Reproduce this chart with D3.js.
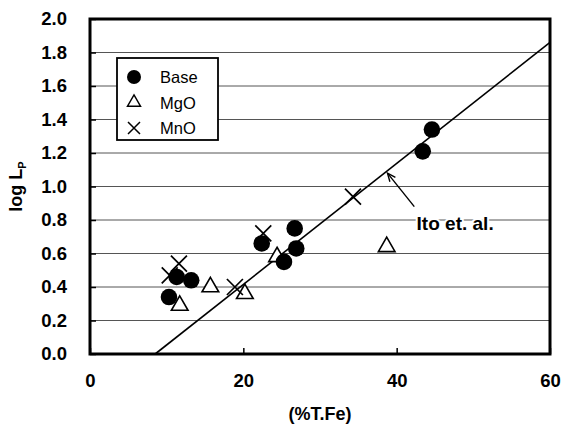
<!DOCTYPE html>
<html>
<head>
<meta charset="utf-8">
<script src="https://cdn.jsdelivr.net/npm/d3@7"></script>
<style>
  body { margin: 0; background: #fff; }
  svg { display: block; font-family: "Liberation Sans", Arial, sans-serif; }
</style>
</head>
<body>
<svg id="chart" width="563" height="428"></svg>
<script>
// values
const baseX = [10.3, 11.3, 13.2, 22.4, 26.7, 26.9, 25.3, 43.4, 44.6];
const baseY = [0.34, 0.46, 0.44, 0.66, 0.75, 0.63, 0.55, 1.21, 1.34];
const mgoX = [11.7, 15.7, 20.2, 24.4, 38.7];
const mgoY = [0.29, 0.40, 0.36, 0.58, 0.64];
const mnoX = [11.6, 10.4, 18.9, 22.6, 34.3];
const mnoY = [0.54, 0.47, 0.40, 0.72, 0.94];
// Ito et. al. line end points
const itoX = [8.5, 60];
const itoY = [0, 1.86];
const xTicks = [0, 20, 40, 60];
const yTicks = [0, 0.2, 0.4, 0.6, 0.8, 1.0, 1.2, 1.4, 1.6, 1.8, 2.0];
const legendLabels = ['Base', 'MgO', 'MnO'];

const margin = { top: 19, right: 13, bottom: 74, left: 90 };
const width = 563, height = 428;
const w = width - margin.left - margin.right;
const h = height - margin.top - margin.bottom;

const svg = d3.select('#chart');
const g = svg.append('g').attr('transform', `translate(${margin.left},${margin.top})`);

const x = d3.scaleLinear().domain([0, 60]).range([0, w]);
const y = d3.scaleLinear().domain([0, 2]).range([h, 0]);

// grid lines
g.append('g')
  .selectAll('line')
  .data(yTicks.slice(1, -1))
  .join('line')
  .attr('x1', 0).attr('x2', w)
  .attr('y1', d => y(d)).attr('y2', d => y(d))
  .attr('stroke', '#555')
  .attr('stroke-width', 1);

// y axis ticks and labels
const yAxis = g.append('g')
  .call(d3.axisLeft(y).tickValues(yTicks).tickFormat(d3.format('.1f')).tickSize(-6).tickPadding(23));
yAxis.select('.domain').remove();
yAxis.selectAll('line').attr('stroke', '#000').attr('stroke-width', 1.5);
yAxis.selectAll('text').style('font-size', '18.5px').style('font-weight', 'bold').attr('fill', '#000');

// x axis ticks and labels
const xAxis = g.append('g')
  .attr('transform', `translate(0,${h})`)
  .call(d3.axisBottom(x).tickValues(xTicks).tickSize(-6).tickPadding(20));
xAxis.select('.domain').remove();
xAxis.selectAll('line').attr('stroke', '#000').attr('stroke-width', 1.5);
xAxis.selectAll('text').style('font-size', '18.5px').style('font-weight', 'bold').attr('fill', '#000');

// Ito et. al. line
g.append('path')
  .datum(itoX.map((d, i) => [d, itoY[i]]))
  .attr('d', d3.line().x(d => x(d[0])).y(d => y(d[1])))
  .attr('fill', 'none')
  .attr('stroke', '#000')
  .attr('stroke-width', 1.6);

// markers
const tri = d3.symbol().type(d3.symbolTriangle).size(120);

g.append('g')
  .selectAll('path')
  .data(mgoX.map((d, i) => [d, mgoY[i]]))
  .join('path')
  .attr('transform', d => `translate(${x(d[0])},${y(d[1])})`)
  .attr('d', tri)
  .attr('fill', '#fff')
  .attr('stroke', '#000')
  .attr('stroke-width', 1.6);

g.append('g')
  .selectAll('path')
  .data(mnoX.map((d, i) => [d, mnoY[i]]))
  .join('path')
  .attr('transform', d => `translate(${x(d[0])},${y(d[1])})`)
  .attr('d', 'M-8,-8L8,8M-8,8L8,-8')
  .attr('stroke', '#000')
  .attr('stroke-width', 1.7);

g.append('g')
  .selectAll('circle')
  .data(baseX.map((d, i) => [d, baseY[i]]))
  .join('circle')
  .attr('cx', d => x(d[0]))
  .attr('cy', d => y(d[1]))
  .attr('r', 8.3)
  .attr('fill', '#000');

// annotation arrow
const arrowFrom = [42.3, 0.88], arrowTo = [38.8, 1.08];
const ax1 = x(arrowFrom[0]), ay1 = y(arrowFrom[1]);
const ax2 = x(arrowTo[0]), ay2 = y(arrowTo[1]);
const ang = Math.atan2(ay2 - ay1, ax2 - ax1);
g.append('line')
  .attr('x1', ax1).attr('y1', ay1).attr('x2', ax2).attr('y2', ay2)
  .attr('stroke', '#000').attr('stroke-width', 1.4);
g.append('path')
  .attr('d', `M${ax2 - 9 * Math.cos(ang - 0.4)},${ay2 - 9 * Math.sin(ang - 0.4)}L${ax2},${ay2}L${ax2 - 9 * Math.cos(ang + 0.4)},${ay2 - 9 * Math.sin(ang + 0.4)}`)
  .attr('fill', 'none').attr('stroke', '#000').attr('stroke-width', 1.4);

g.append('text')
  .attr('x', x(42.6))
  .attr('y', y(0.74))
  .attr('fill', '#000')
  .attr('stroke', '#fff')
  .attr('stroke-width', 4)
  .attr('paint-order', 'stroke')
  .style('font-size', '19px')
  .style('font-weight', 'bold')
  .text('Ito et. al.');

// legend
const legend = svg.append('g').attr('transform', 'translate(117,58)');
legend.append('rect')
  .attr('width', 101).attr('height', 82)
  .attr('fill', '#fff').attr('stroke', '#000').attr('stroke-width', 1.8);
const rows = legend.selectAll('g.row')
  .data(legendLabels)
  .join('g')
  .attr('class', 'row')
  .attr('transform', (d, i) => `translate(17,${19 + i * 25.5})`);
rows.each(function (d, i) {
  const r = d3.select(this);
  if (i === 0) r.append('circle').attr('r', 7).attr('fill', '#000');
  if (i === 1) r.append('path').attr('d', d3.symbol().type(d3.symbolTriangle).size(75))
    .attr('fill', '#fff').attr('stroke', '#000').attr('stroke-width', 1.4);
  if (i === 2) r.append('path').attr('d', 'M-6,-6L6,6M-6,6L6,-6')
    .attr('stroke', '#000').attr('stroke-width', 1.5);
});
rows.append('text')
  .attr('x', 26).attr('y', 6)
  .style('font-size', '16.5px')
  .text(d => d);

// frame
g.append('rect')
  .attr('width', w).attr('height', h)
  .attr('fill', 'none').attr('stroke', '#000').attr('stroke-width', 3);

// axis titles
svg.append('text')
  .attr('x', margin.left + w / 2)
  .attr('y', 420)
  .attr('text-anchor', 'middle')
  .style('font-size', '18px')
  .style('font-weight', 'bold')
  .text('(%T.Fe)');

const yt = svg.append('text')
  .attr('transform', `translate(22,${margin.top + h / 2}) rotate(-90)`)
  .attr('text-anchor', 'middle')
  .style('font-size', '18px')
  .style('font-weight', 'bold');
yt.append('tspan').text('log L');
yt.append('tspan').attr('dy', 4).style('font-size', '11px').text('P');
</script>
</body>
</html>
